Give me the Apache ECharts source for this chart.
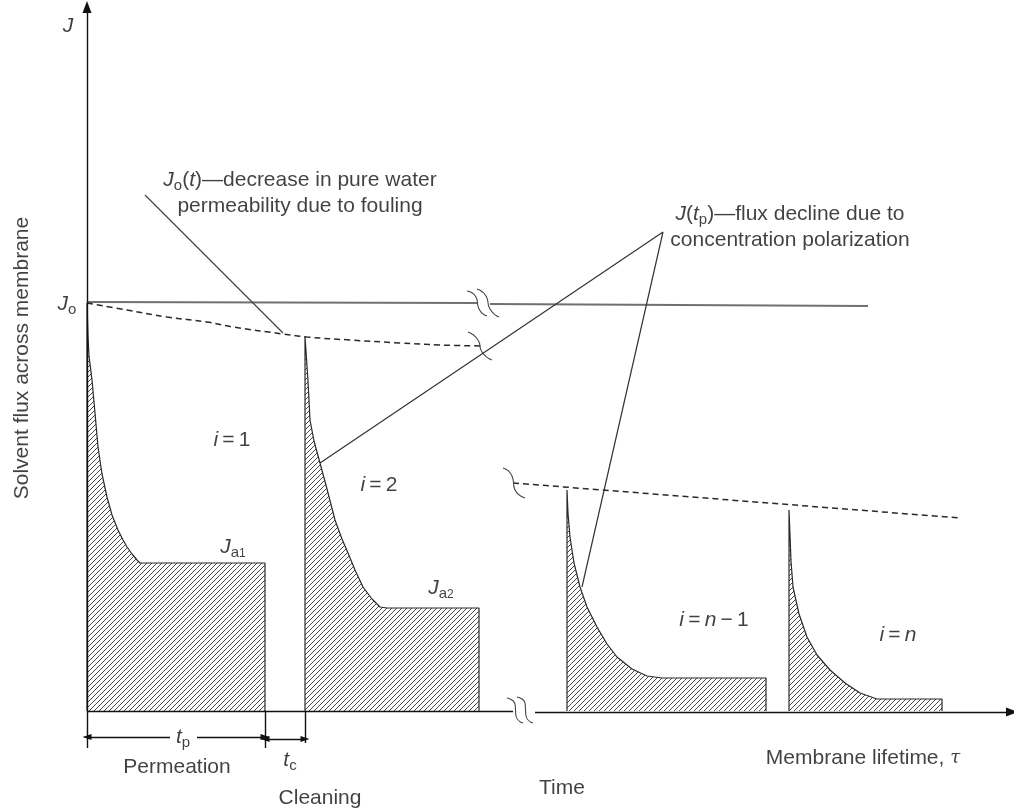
<!DOCTYPE html>
<html>
<head>
<meta charset="utf-8">
<script src="https://cdn.jsdelivr.net/npm/echarts@6/dist/echarts.min.js"></script>
<style>
html, body { margin: 0; padding: 0; background: #fff; }
#chart { width: 1014px; height: 811px; }
</style>
</head>
<body>
<div id="chart"></div>
<script>
// time runs right from the J axis (x = 0), flux runs up from the t axis (y = 0)
const cycle1 = [[0,0],[0,408],[1,375],[2,355],[5,331],[8,298],[11,264],[15,237],[20,214],[25,196],[31,181],[36,171],[40,164],[45,157],[50,151],[53,148],[178,148],[178,0]]
const cycle2 = [[218,0],[218,374],[219,360],[221,330],[223,291],[227,270],[233,248],[240,222],[248,191],[255,172],[261,158],[268,141],[276,124],[285,112],[293,104],[300,103],[392,103],[392,0]]
const cycleN1 = [[480,0],[480,221],[481,198],[483,174],[487,148],[493,124],[500,104],[510,84],[520,67],[530,54],[545,42],[560,35],[575,33],[679,33],[679,0]]
const cycleN = [[702,0],[702,201],[703,176],[704,150],[706,124],[712,97],[720,74],[730,56],[743,41],[758,28],[773,18],[790,12],[855,12],[855,0]]

const pureFluxA = [[0,409],[390,408]]
const pureFluxB = [[403,407],[781,405]]
const foulingEarly = [[0,408],[40,401],[80,394],[120,389],[146,384],[196,377],[220,374],[263,371],[313,368],[353,366],[395,365]]
const foulingLate = [[426,228],[873,193]]

const leaderJo = [[58,516],[196,378]]
const leaderJtp = [[233,248],[576,479],[495,124]]

const breaks = [
  [[380,420],[389,414],[392,402],[400,395]],
  [[390,422],[399,415],[403,402],[412,394]],
  [[381,379],[391,371],[395,359],[405,351]],
  [[416,243],[425,235],[428,221],[438,213]],
  [[420,13],[428,7],[429,-5],[436,-12]],
  [[430,14],[438,8],[439,-5],[446,-12]]
]

const axisJ = [[0,-37],[0,704]]
const axisTLeft = [[0,0],[426,0]]
const axisTRight = [[448,-1],[925,-1]]
const ticks = [[[178,0],[178,-37]], [[218,0],[218,-32]]]
const tpArrows = [[[83,-26],[0,-26]], [[110,-26],[178,-26]]]
const tcArrow = [[178,-28],[218,-28]]

const notes = [
  [-19, 685, '{v|J}'],
  [-20, 407, '{v|J}{s|o}'],
  [213, 518, '{v|J}{s|o}({v|t})—decrease in pure water\npermeability due to fouling'],
  [703, 484, '{v|J}({v|t}{s|p})—flux decline due to\nconcentration polarization'],
  [145, 271, '{v|i}\u2009=\u20091'],
  [146, 164, '{v|J}{s|a}{ss|1}'],
  [292, 226, '{v|i}\u2009=\u20092'],
  [354, 123, '{v|J}{s|a}{ss|2}'],
  [627, 91, '{v|i}\u2009=\u2009{v|n}\u2009−\u20091'],
  [811, 76, '{v|i}\u2009=\u2009{v|n}'],
  [96, -26, '{v|t}{s|p}'],
  [90, -56, 'Permeation'],
  [203, -49, '{v|t}{s|c}'],
  [233, -87, 'Cleaning'],
  [475, -77, 'Time'],
  [776, -47, 'Membrane lifetime, {tau|τ}'],
  [928, -19, '{v|t}']
]
const yTitle = 'Solvent flux across membrane'

const FONT = '"Liberation Sans", Arial, Helvetica, sans-serif'
const INK = '#111'
const LINE = '#2a2a2a'

function hatch() {
  const c = document.createElement('canvas')
  c.width = 5
  c.height = 5
  const g = c.getContext('2d')
  g.strokeStyle = '#333'
  g.lineWidth = 0.9
  g.beginPath()
  g.moveTo(0, 5); g.lineTo(5, 0)
  g.moveTo(-1, 1); g.lineTo(1, -1)
  g.moveTo(4, 6); g.lineTo(6, 4)
  g.stroke()
  return c
}
const hatchFill = { image: hatch(), repeat: 'repeat' }

function path(data, style, extra) {
  return Object.assign({
    type: 'line', data, symbol: 'none', silent: true,
    lineStyle: Object.assign({ color: LINE, width: 1.2 }, style)
  }, extra || {})
}

function cycle(data) {
  return path(data, { width: 1.2 }, { areaStyle: { color: hatchFill, opacity: 1 } })
}

function seg(a, b, endSym, startSym) {
  const size = endSym === 'big' ? [9, 12] : [6, 9]
  return [
    { coord: a, symbol: startSym ? 'triangle' : 'none', symbolSize: size },
    { coord: b, symbol: endSym ? 'triangle' : 'none', symbolSize: size }
  ]
}

const rich = {
  v: { fontFamily: FONT, fontSize: 21, fontStyle: 'italic', color: INK },
  s: { fontFamily: FONT, fontSize: 15, color: INK, verticalAlign: 'bottom', lineHeight: 6 },
  ss: { fontFamily: FONT, fontSize: 12, color: INK, verticalAlign: 'bottom', lineHeight: 0.5 },
  tau: { fontFamily: '"DejaVu Serif", serif', fontSize: 18, fontStyle: 'italic', color: INK }
}

const chart = echarts.init(document.getElementById('chart'))
chart.setOption({
  animation: false,
  backgroundColor: '#fff',
  grid: { left: 0, right: 0, top: 0, bottom: 0, outerBoundsMode: 'none' },
  xAxis: { type: 'value', min: -87, max: 927, show: false },
  yAxis: { type: 'value', min: -100, max: 711, show: false },
  series: [
    cycle(cycle1),
    cycle(cycle2),
    cycle(cycleN1),
    cycle(cycleN),
    path(pureFluxA, { color: '#707070', width: 2.2 }),
    path(pureFluxB, { color: '#707070', width: 2.2 }),
    path(foulingEarly, { type: [6, 4], width: 1.5 }, { smooth: 0.4 }),
    path(foulingLate, { type: [6, 4], width: 1.5 }),
    path(leaderJo, { color: '#444' }),
    path(leaderJtp, { color: '#333' }),
    ...breaks.map(b => path(b, { color: '#444', width: 1.1 }, { smooth: 0.6 })),
    {
      type: 'line', data: [], silent: true,
      markLine: {
        silent: true, animation: false,
        label: { show: false },
        lineStyle: { color: '#111', width: 1.4, type: 'solid' },
        emphasis: { disabled: true },
        data: [
          seg(axisJ[0], axisJ[1], 'big'),
          seg(axisTLeft[0], axisTLeft[1]),
          seg(axisTRight[0], axisTRight[1], 'big'),
          ...ticks.map(t => seg(t[0], t[1])),
          ...tpArrows.map(t => seg(t[0], t[1], 'small')),
          seg(tcArrow[0], tcArrow[1], 'small', 'small')
        ]
      }
    },
    {
      type: 'scatter', silent: true, symbolSize: 1,
      itemStyle: { color: 'rgba(0,0,0,0)' },
      label: {
        show: true, position: 'inside', align: 'center',
        fontFamily: FONT, fontSize: 21, color: INK, lineHeight: 26, rich
      },
      data: notes.map(n => ({ value: [n[0], n[1]], label: { formatter: n[2] } }))
        .concat([{ value: [-65, 353], label: { formatter: yTitle, rotate: 90 } }])
    }
  ]
})
</script>
</body>
</html>
